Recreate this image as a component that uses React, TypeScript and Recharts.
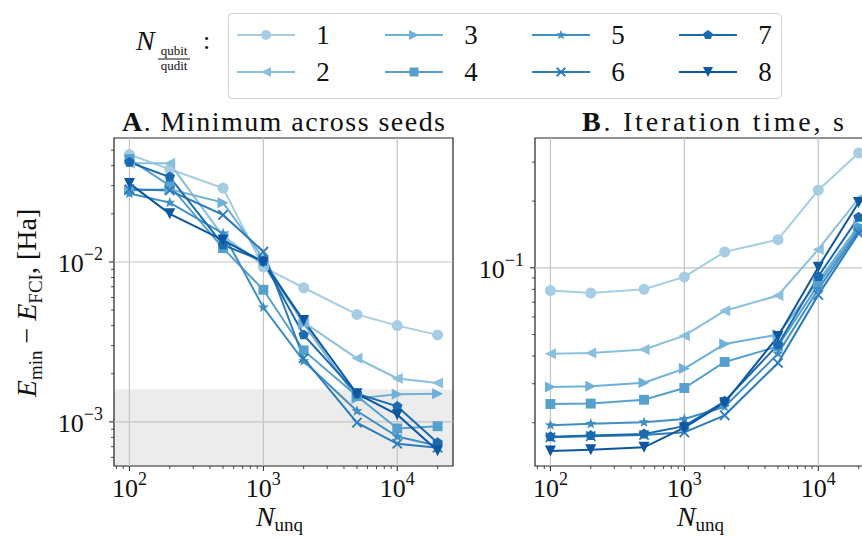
import React from 'react';
import { LineChart, Line, XAxis, YAxis, ReferenceArea, ReferenceLine } from 'recharts';

const FONT = '"Liberation Serif", "DejaVu Serif", serif';

// number of unique samples per iteration
const nUnq = [100, 200, 500, 1000, 2000, 5000, 10000, 20000];
const ratioLabels = ['1', '2', '3', '4', '5', '6', '7', '8'];

// E_min - E_FCI, Ha (minimum across seeds)
const minErr1 = [0.047, 0.038, 0.029, 0.0093, 0.0069, 0.0047, 0.004, 0.0035];
const minErr2 = [0.0414, 0.0414, 0.0145, 0.0096, 0.0042, 0.0025, 0.00187, 0.00175];
const minErr3 = [0.028, 0.0285, 0.0235, 0.0105, 0.0041, 0.0014, 0.00149, 0.0015];
const minErr4 = [0.044, 0.03, 0.0122, 0.0067, 0.0028, 0.00145, 0.00091, 0.00094];
const minErr5 = [0.0268, 0.0235, 0.0151, 0.0052, 0.0024, 0.00117, 0.00081, 0.00071];
const minErr6 = [0.0285, 0.028, 0.0197, 0.0116, 0.0025, 0.00099, 0.00073, 0.00069];
const minErr7 = [0.042, 0.034, 0.0128, 0.0101, 0.0035, 0.0015, 0.00125, 0.00074];
const minErr8 = [0.031, 0.02, 0.0137, 0.01, 0.0043, 0.0015, 0.00111, 0.00066];

// iteration time, s
const iterTime1 = [0.079, 0.077, 0.08, 0.091, 0.118, 0.134, 0.224, 0.33];
const iterTime2 = [0.041, 0.0413, 0.0428, 0.0494, 0.064, 0.075, 0.121, 0.205];
const iterTime3 = [0.029, 0.0292, 0.0303, 0.0351, 0.0453, 0.05, 0.087, 0.155];
const iterTime4 = [0.0243, 0.0244, 0.0254, 0.0287, 0.0376, 0.0442, 0.084, 0.15];
const iterTime5 = [0.0195, 0.0198, 0.0201, 0.0208, 0.0236, 0.041, 0.08, 0.147];
const iterTime6 = [0.0172, 0.0174, 0.0176, 0.0181, 0.0216, 0.0372, 0.0755, 0.143];
const iterTime7 = [0.0173, 0.0175, 0.0178, 0.0193, 0.025, 0.045, 0.0914, 0.169];
const iterTime8 = [0.0149, 0.0151, 0.0155, 0.019, 0.0246, 0.049, 0.1007, 0.197];

// chemical accuracy threshold, Ha
const chemAccuracy = 0.0016;

const minErr = [minErr1, minErr2, minErr3, minErr4, minErr5, minErr6, minErr7, minErr8];
const iterTime = [iterTime1, iterTime2, iterTime3, iterTime4, iterTime5, iterTime6, iterTime7, iterTime8];

const palette = ['#a6cde4', '#8bc0dd', '#6eb0d7', '#56a0ce', '#3f8fc4', '#2c7cbb', '#1b6aaf', '#0d57a1'];
const shapes = ['circle', 'left', 'right', 'square', 'star', 'cross', 'pentagon', 'down'];

const toRows = (series: number[][]) =>
  nUnq.map((n, i) => {
    const row: Record<string, number> = { n };
    series.forEach((s, k) => (row[`s${k}`] = s[i]));
    return row;
  });

const errRows = toRows(minErr);
const timeRows = toRows(iterTime);

const xDomain: [number, number] = [76.7, 26070];
const errDomain: [number, number] = [0.00053, 0.0596];
const timeDomain: [number, number] = [0.01276, 0.3853];

const decadeTicks = (decades: number[], lo: number, hi: number) => {
  const out: number[] = [];
  decades.forEach(d => [1, 2, 3, 4, 5, 6, 7, 8, 9].forEach(k => out.push(k * d)));
  return out.filter(v => v >= lo && v <= hi);
};

const xTicks = decadeTicks([10, 100, 1000, 10000], xDomain[0], xDomain[1]);
const errTicks = decadeTicks([0.0001, 0.001, 0.01], errDomain[0], errDomain[1]);
const timeTicks = decadeTicks([0.01, 0.1], timeDomain[0], timeDomain[1]);

const isMajor = (v: number) => Math.abs(Math.log10(v) - Math.round(Math.log10(v))) < 1e-6;

const Pow = ({ x, y, exp, anchor }: { x: number; y: number; exp: number; anchor: 'middle' | 'end' }) => (
  <text x={x} y={y} textAnchor={anchor} fontFamily={FONT} fontSize={26} fill="#111">
    10
    <tspan dy={-12} fontSize={18}>
      {exp < 0 ? `\u2212${-exp}` : `${exp}`}
    </tspan>
  </text>
);

const XTick = (props: any) => {
  const { x, y, payload } = props;
  const major = isMajor(payload.value);
  return (
    <g>
      <line x1={x} x2={x} y1={y} y2={y + (major ? 5 : 3)} stroke="#222" strokeWidth={major ? 1 : 0.8} />
      {major && <Pow x={x} y={y + 31} exp={Math.round(Math.log10(payload.value))} anchor="middle" />}
    </g>
  );
};

const YTick = (props: any) => {
  const { x, y, payload } = props;
  const major = isMajor(payload.value);
  return (
    <g>
      <line x1={x - (major ? 5 : 3)} x2={x} y1={y} y2={y} stroke="#222" strokeWidth={major ? 1 : 0.8} />
      {major && <Pow x={x - 11} y={y + 10} exp={Math.round(Math.log10(payload.value))} anchor="end" />}
    </g>
  );
};

const Marker = ({ shape, cx, cy, color, size = 11 }: { shape: string; cx: number; cy: number; color: string; size?: number }) => {
  const r = size / 2;
  const poly = (pts: number[][]) => <polygon points={pts.map(p => `${cx + p[0]},${cy + p[1]}`).join(' ')} fill={color} />;
  const ring = (count: number, inner: number) => {
    const pts: number[][] = [];
    const steps = inner > 0 ? count * 2 : count;
    for (let i = 0; i < steps; i++) {
      const a = -Math.PI / 2 + (i * 2 * Math.PI) / steps;
      const rr = inner > 0 && i % 2 === 1 ? r * inner : r;
      pts.push([rr * Math.cos(a), rr * Math.sin(a)]);
    }
    return pts;
  };
  switch (shape) {
    case 'circle':
      return <circle cx={cx} cy={cy} r={r} fill={color} />;
    case 'left':
      return poly([[-r, 0], [r, -r], [r, r]]);
    case 'right':
      return poly([[r, 0], [-r, -r], [-r, r]]);
    case 'down':
      return poly([[0, r], [-r, -r], [r, -r]]);
    case 'square':
      return <rect x={cx - r * 0.9} y={cy - r * 0.9} width={r * 1.8} height={r * 1.8} fill={color} />;
    case 'star':
      return poly(ring(5, 0.42).map(p => [p[0] * 1.05, p[1] * 1.05]));
    case 'pentagon':
      return poly(ring(5, 0));
    case 'cross':
      return (
        <g stroke={color} strokeWidth={1.8}>
          <line x1={cx - r * 0.85} y1={cy - r * 0.85} x2={cx + r * 0.85} y2={cy + r * 0.85} />
          <line x1={cx - r * 0.85} y1={cy + r * 0.85} x2={cx + r * 0.85} y2={cy - r * 0.85} />
        </g>
      );
    default:
      return null;
  }
};

const dotFor = (k: number) => (p: any) =>
  <Marker key={`m${k}-${p.index}`} shape={shapes[k]} cx={p.cx} cy={p.cy} color={palette[k]} />;

const GRID = '#c4c4c4';

const Panel = ({
  rows,
  yDomain,
  yTicks,
  yMajor,
  width,
  left,
  band,
}: {
  rows: Record<string, number>[];
  yDomain: [number, number];
  yTicks: number[];
  yMajor: number[];
  width: number;
  left: number;
  band?: boolean;
}) => (
  <div style={{ position: 'absolute', left: 0, top: 0 }}>
    <LineChart width={width} height={538} data={rows} margin={{ top: 138, bottom: 42, left: left - 60, right: width - left - 339 }}>
      <XAxis
        dataKey="n"
        type="number"
        scale="log"
        domain={xDomain}
        allowDataOverflow
        ticks={xTicks}
        interval={0}
        tick={<XTick />}
        tickLine={false}
        axisLine={false}
        tickSize={0}
        tickMargin={0}
        height={30}
      />
      <YAxis
        type="number"
        scale="log"
        domain={yDomain}
        allowDataOverflow
        ticks={yTicks}
        interval={0}
        tick={<YTick />}
        tickLine={false}
        axisLine={false}
        tickSize={0}
        tickMargin={0}
        width={60}
      />
      {[100, 1000, 10000].map(v => (
        <ReferenceLine key={`gx${v}`} x={v} stroke={GRID} strokeWidth={1.2} />
      ))}
      {yMajor.map(v => (
        <ReferenceLine key={`gy${v}`} y={v} stroke={GRID} strokeWidth={1.2} />
      ))}
      {band && <ReferenceArea y1={yDomain[0]} y2={chemAccuracy} fill="#808080" fillOpacity={0.15} stroke="none" />}
      {palette.map((c, k) => (
        <Line
          key={`s${k}`}
          dataKey={`s${k}`}
          stroke={c}
          strokeWidth={2}
          dot={dotFor(k)}
          activeDot={false}
          isAnimationActive={false}
        />
      ))}
      <ReferenceArea x1={xDomain[0]} x2={xDomain[1]} y1={yDomain[0]} y2={yDomain[1]} fill="none" stroke="#222" strokeWidth={1.2} />
    </LineChart>
  </div>
);

const legendCols = [237, 385, 532, 679];
const legendRows = [35, 72];

const Overlay = () => (
  <svg width={862} height={538} style={{ position: 'absolute', left: 0, top: 0, pointerEvents: 'none' }} fontFamily={FONT} fill="#111">
    {/* legend title */}
    <text x={136} y={50} fontSize={28} fontStyle="italic">N</text>
    <text x={174} y={55} fontSize={13} textAnchor="middle">qubit</text>
    <line x1={158} x2={190} y1={59} y2={59} stroke="#111" strokeWidth={1} />
    <text x={174} y={70} fontSize={13} textAnchor="middle">qudit</text>
    <text x={203} y={49} fontSize={26}>:</text>
    {/* legend */}
    <rect x={228.5} y={13.5} width={553} height={85} rx={4} fill="#fff" stroke="#d0d0d0" strokeWidth={1} />
    {ratioLabels.map((lab, k) => {
      const x0 = legendCols[Math.floor(k / 2)];
      const y0 = legendRows[k % 2];
      return (
        <g key={lab}>
          <line x1={x0} x2={x0 + 58} y1={y0} y2={y0} stroke={palette[k]} strokeWidth={2} />
          <Marker shape={shapes[k]} cx={x0 + 29} cy={y0} color={palette[k]} size={10} />
          <text x={x0 + 86} y={y0 + 9} fontSize={27} textAnchor="middle">{lab}</text>
        </g>
      );
    })}
    {/* panel titles */}
    <text x={283.5} y={131} fontSize={28} textAnchor="middle" textLength={323} lengthAdjust="spacing">
      <tspan fontWeight="bold">A</tspan>. Minimum across seeds
    </text>
    <text x={713} y={131} fontSize={28} textAnchor="middle" textLength={262} lengthAdjust="spacing">
      <tspan fontWeight="bold">B</tspan>. Iteration time, s
    </text>
    {/* y label */}
    <text transform="translate(36,303) rotate(-90)" fontSize={28} textAnchor="middle">
      <tspan fontStyle="italic">E</tspan>
      <tspan fontSize={19} dy={6}>min</tspan>
      <tspan dy={-6}> {'\u2212'} </tspan>
      <tspan fontStyle="italic">E</tspan>
      <tspan fontSize={19} dy={6}>FCI</tspan>
      <tspan dy={-6}>, [Ha]</tspan>
    </text>
    {/* x labels */}
    {[283.5, 704.5].map(cx => (
      <text key={cx} x={cx - 4} y={526} fontSize={28} textAnchor="middle">
        <tspan fontStyle="italic">N</tspan>
        <tspan fontSize={19} dy={5}>unq</tspan>
      </text>
    ))}
  </svg>
);

export default function App() {
  return (
    <div style={{ position: 'absolute', left: 0, top: 0, width: 862, height: 538, overflow: 'hidden', background: '#fff' }}>
      <Panel rows={errRows} yDomain={errDomain} yTicks={errTicks} yMajor={[0.001, 0.01]} width={470} left={114} band />
      <Panel rows={timeRows} yDomain={timeDomain} yTicks={timeTicks} yMajor={[0.1]} width={900} left={535} />
      <Overlay />
    </div>
  );
}
